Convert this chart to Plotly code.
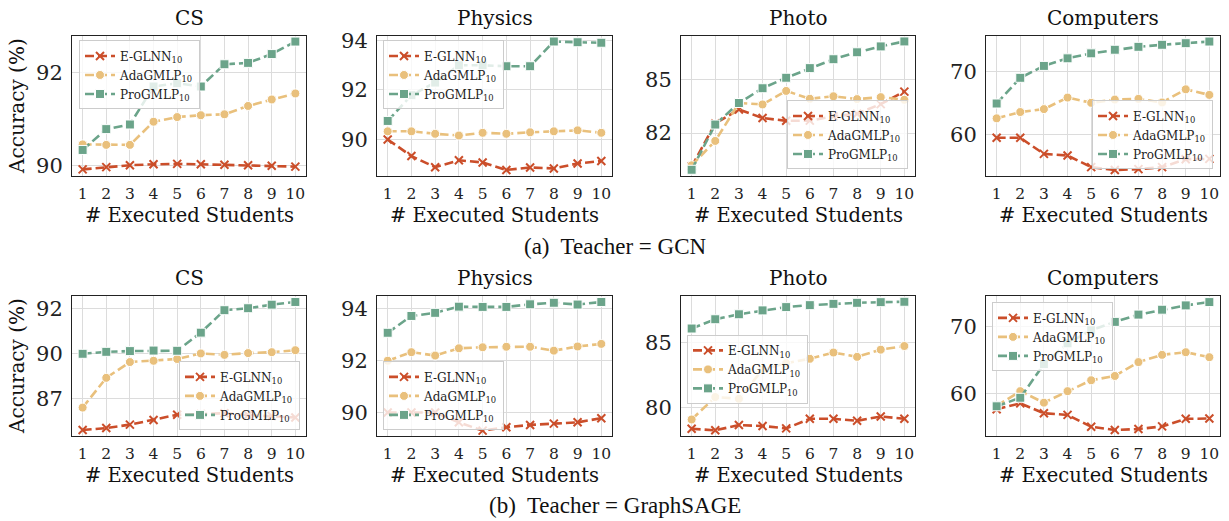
import plotly.graph_objects as go

W, H = 1229, 521

students = list(range(1, 11))
datasets = ["CS", "Physics", "Photo", "Computers"]
methods = ["E-GLNN<sub>10</sub>", "AdaGMLP<sub>10</sub>", "ProGMLP<sub>10</sub>"]

# Teacher = GCN
gcn_cs_eglnn = [89.91, 89.96, 90.00, 90.02, 90.03, 90.02, 90.01, 90.00, 89.99, 89.97]
gcn_cs_ada = [90.45, 90.44, 90.44, 90.94, 91.04, 91.08, 91.10, 91.28, 91.42, 91.55]
gcn_cs_pro = [90.33, 90.78, 90.88, 91.70, 91.77, 91.70, 92.18, 92.21, 92.40, 92.67]

gcn_phys_eglnn = [90.00, 89.33, 88.88, 89.16, 89.07, 88.77, 88.87, 88.83, 89.03, 89.13]
gcn_phys_ada = [90.33, 90.33, 90.23, 90.16, 90.27, 90.23, 90.29, 90.33, 90.37, 90.27]
gcn_phys_pro = [90.75, 91.79, 92.30, 93.00, 93.00, 92.96, 92.96, 93.96, 93.93, 93.91]

gcn_photo_eglnn = [80.13, 82.54, 83.33, 82.85, 82.69, 82.70, 82.94, 83.09, 83.63, 84.33]
gcn_photo_ada = [80.19, 81.56, 83.69, 83.61, 84.37, 83.93, 84.07, 83.91, 84.02, 83.87]
gcn_photo_pro = [79.94, 82.48, 83.69, 84.52, 85.11, 85.65, 86.15, 86.54, 86.87, 87.15]

gcn_comp_eglnn = [59.53, 59.53, 57.00, 56.74, 54.92, 54.46, 54.60, 54.92, 56.16, 56.22]
gcn_comp_ada = [62.59, 63.58, 64.04, 65.85, 65.03, 65.54, 65.65, 65.08, 67.15, 66.27]
gcn_comp_pro = [64.92, 68.96, 70.83, 72.02, 72.80, 73.37, 73.83, 74.15, 74.40, 74.66]

# Teacher = GraphSAGE
sage_cs_eglnn = [85.75, 85.86, 86.05, 86.31, 86.60, 86.64, 86.69, 86.58, 86.53, 86.45]
sage_cs_ada = [87.00, 88.66, 89.54, 89.61, 89.71, 90.02, 89.94, 90.04, 90.09, 90.20]
sage_cs_pro = [90.00, 90.11, 90.15, 90.18, 90.17, 91.18, 92.43, 92.54, 92.74, 92.89]

sage_phys_eglnn = [90.00, 90.00, 90.00, 89.62, 89.30, 89.43, 89.52, 89.57, 89.62, 89.78]
sage_phys_ada = [92.00, 92.33, 92.20, 92.48, 92.52, 92.54, 92.54, 92.39, 92.55, 92.65]
sage_phys_pro = [93.08, 93.73, 93.85, 94.09, 94.08, 94.08, 94.18, 94.24, 94.17, 94.27]

sage_photo_eglnn = [78.38, 78.26, 78.66, 78.59, 78.41, 79.14, 79.14, 78.99, 79.32, 79.14]
sage_photo_ada = [79.09, 80.81, 80.68, 82.90, 83.40, 83.74, 84.22, 83.89, 84.44, 84.72]
sage_photo_pro = [86.06, 86.77, 87.15, 87.45, 87.70, 87.85, 87.95, 88.03, 88.08, 88.11]

sage_comp_eglnn = [57.65, 58.53, 57.06, 56.81, 55.05, 54.56, 54.71, 55.10, 56.23, 56.27]
sage_comp_ada = [58.14, 60.34, 58.63, 60.34, 61.96, 62.60, 64.66, 65.74, 66.13, 65.39]
sage_comp_pro = [58.09, 59.36, 64.36, 67.45, 69.40, 70.64, 71.72, 72.45, 73.09, 73.58]

panels = [
    [gcn_cs_eglnn, gcn_cs_ada, gcn_cs_pro],
    [gcn_phys_eglnn, gcn_phys_ada, gcn_phys_pro],
    [gcn_photo_eglnn, gcn_photo_ada, gcn_photo_pro],
    [gcn_comp_eglnn, gcn_comp_ada, gcn_comp_pro],
    [sage_cs_eglnn, sage_cs_ada, sage_cs_pro],
    [sage_phys_eglnn, sage_phys_ada, sage_phys_pro],
    [sage_photo_eglnn, sage_photo_ada, sage_photo_pro],
    [sage_comp_eglnn, sage_comp_ada, sage_comp_pro],
]

y_ranges = [
    [89.76, 92.80], [88.51, 94.20], [79.57, 87.48], [53.47, 75.60],
    [85.40, 93.25], [89.08, 94.52], [77.80, 88.59], [53.63, 74.56],
]
y_tickvals = [
    [90, 92], [90, 92, 94], [82, 85], [60, 70],
    [87.5, 90, 92.5], [90, 92, 94], [80, 85], [60, 70],
]
y_ticktext = [
    ["90", "92"], ["90", "92", "94"], ["82", "85"], ["60", "70"],
    ["87", "90", "92"], ["90", "92", "94"], ["80", "85"], ["60", "70"],
]

captions = ["(a)  Teacher = GCN", "(b)  Teacher = GraphSAGE"]

colors = ["#CB4E2A", "#E9C07C", "#6BA48A"]
symbols = ["x-thin-open", "circle", "square"]

SERIF = '"DejaVu Serif", serif'
TIMES = '"Liberation Serif", "Times New Roman", serif'

# pixel geometry
col_x = [(72, 306), (377, 612), (681, 915), (986, 1220)]
row_y = [(29, 172), (293, 436)]

def px(x):
    return x / W

def py(y):
    return 1 - y / H

# legend boxes (x, y, anchors)
legend_pos = [
    (79, 34, "left", "top"),
    (383, 34, "left", "top"),
    (908, 165, "right", "bottom"),
    (1213, 165, "right", "bottom"),
    (300, 430, "right", "bottom"),
    (383, 430, "left", "bottom"),
    (687, 333, "left", "top"),
    (992, 300, "left", "top"),
]

fig = go.Figure()
layout = dict(
    width=W, height=H,
    margin=dict(l=0, r=0, t=0, b=0),
    paper_bgcolor="white", plot_bgcolor="white",
    font=dict(family=SERIF, color="#222"),
    annotations=[],
)

for i in range(8):
    r, c = divmod(i, 4)
    suf = "" if i == 0 else str(i + 1)
    xa, ya = "x" + suf, "y" + suf
    leg = "legend" + suf
    for k in range(3):
        marker = dict(symbol=symbols[k], size=9 if k else 8, color=colors[k],
                      line=dict(color=colors[k] if k == 0 else "white", width=2 if k == 0 else 1))
        fig.add_trace(go.Scatter(
            x=students, y=panels[i][k], mode="lines+markers",
            name=methods[k], xaxis=xa, yaxis=ya, legend=leg,
            line=dict(color=colors[k], width=2.6, dash="9px,4px"),
            marker=marker,
        ))
    x0, x1 = col_x[c]
    y0, y1 = row_y[r]
    layout["xaxis" + suf] = dict(
        domain=[px(x0), px(x1)], anchor=ya, range=[0.55, 10.45],
        tickvals=students, ticks="", showgrid=True, gridcolor="#dcdcdc", gridwidth=1,
        showline=True, linecolor="#222", linewidth=1, mirror=True, zeroline=False,
        tickfont=dict(size=15.5, family=SERIF, color="#222"), ticklabelstandoff=3,
    )
    layout["yaxis" + suf] = dict(
        domain=[py(y1), py(y0)], anchor=xa, range=y_ranges[i],
        tickvals=y_tickvals[i], ticktext=y_ticktext[i], ticks="",
        showgrid=True, gridcolor="#dcdcdc", gridwidth=1,
        showline=True, linecolor="#222", linewidth=1, mirror=True, zeroline=False,
        tickfont=dict(size=21, family=SERIF, color="#222"), ticklabelstandoff=4,
    )
    lx, ly, xanc, yanc = legend_pos[i]
    layout[leg] = dict(
        x=px(lx), y=py(ly), xanchor=xanc, yanchor=yanc,
        xref="paper", yref="paper",
        bgcolor="rgba(255,255,255,0.8)", bordercolor="#cccccc", borderwidth=1,
        font=dict(size=12, family=SERIF, color="#222"),
        itemwidth=30, tracegroupgap=0,
    )
    # subplot title
    layout["annotations"].append(dict(
        text=datasets[c], x=px((x0 + x1) / 2), y=py(y0 - 4), xref="paper", yref="paper",
        xanchor="center", yanchor="bottom", showarrow=False,
        font=dict(size=20, family=SERIF, color="#111"),
    ))
    # x axis title
    layout["annotations"].append(dict(
        text="# Executed Students", x=px((x0 + x1) / 2), y=py(y1 + 40), xref="paper", yref="paper",
        xanchor="center", yanchor="middle", showarrow=False,
        font=dict(size=19.5, family=SERIF, color="#111"),
    ))
    if c == 0:
        layout["annotations"].append(dict(
            text="Accuracy (%)", x=px(17), y=py((y0 + y1) / 2), xref="paper", yref="paper",
            xanchor="center", yanchor="middle", showarrow=False, textangle=-90,
            font=dict(size=20, family=SERIF, color="#111"),
        ))

for r, cap in enumerate(captions):
    layout["annotations"].append(dict(
        text=cap, x=px(615), y=py(243 if r == 0 else 506), xref="paper", yref="paper",
        xanchor="center", yanchor="middle", showarrow=False,
        font=dict(size=23, family=TIMES, color="#111"),
    ))

fig.update_layout(**layout)
fig.write_html(
    "out.html",
    config={"displayModeBar": False},
    post_script="document.body.style.margin='0';document.body.style.overflow='hidden';",
)
